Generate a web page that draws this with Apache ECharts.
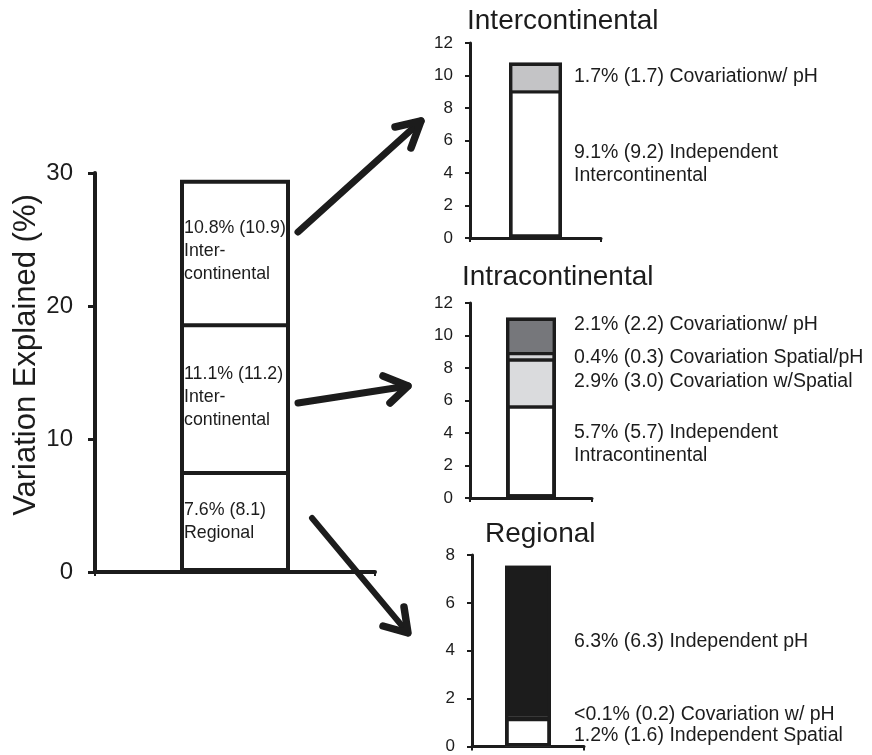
<!DOCTYPE html>
<html>
<head>
<meta charset="utf-8">
<script src="https://cdn.jsdelivr.net/npm/echarts@6/dist/echarts.min.js"></script>
<style>
html,body{margin:0;padding:0;background:#fff;}
#chart{width:872px;height:755px;}
</style>
</head>
<body>
<div id="chart"></div>
<script>
// ---- Data ----
const mainCategories = [''];
const mainRegional = [7.6];
const mainIntra = [11.1];
const mainInter = [10.8];
const mainLabels = ['7.6% (8.1)\nRegional', '11.1% (11.2)\nInter-\ncontinental', '10.8% (10.9)\nInter-\ncontinental'];

const interTitle = 'Intercontinental';
const interIndependent = [9.1];
const interCovPH = [1.7];
const interLabels = ['9.1% (9.2) Independent\nIntercontinental', '1.7% (1.7) Covariationw/ pH'];

const intraTitle = 'Intracontinental';
const intraIndependent = [5.7];
const intraCovSpatial = [2.9];
const intraCovSpatialPH = [0.4];
const intraCovPH = [2.1];
const intraLabels = ['5.7% (5.7) Independent\nIntracontinental', '2.9% (3.0) Covariation w/Spatial', '0.4% (0.3) Covariation Spatial/pH', '2.1% (2.2) Covariationw/ pH'];

const regTitle = 'Regional';
const regIndepSpatial = [1.2];
const regCovPH = [0.05];
const regIndepPH = [6.3];
const regLabels = ['1.2% (1.6) Independent Spatial', '<0.1% (0.2) Covariation w/ pH', '6.3% (6.3) Independent pH'];

const yAxisName = 'Variation Explained (%)';

// ---- Styles ----
const FONT = '"Liberation Sans", Arial, Helvetica, sans-serif';
const INK = '#1c1c1c';

// running totals of stacked arrays (one array per stack level)
function cumulative(arrs) {
  const out = [];
  let run = arrs[0].map(function () { return 0; });
  arrs.forEach(function (a) {
    run = run.map(function (v, i) { return +(v + a[i]).toFixed(3); });
    out.push(run.slice());
  });
  return out;
}

const chart = echarts.init(document.getElementById('chart'), null, {renderer: 'canvas'});

function xAx(gi, lw) {
  return {
    gridIndex: gi, type: 'category', data: mainCategories,
    axisLine: {lineStyle: {color: INK, width: lw}},
    axisTick: {show: true, length: 4, lineStyle: {color: INK, width: 2}},
    axisLabel: {show: false}, splitLine: {show: false}
  };
}
function yAx(gi, max, interval, lw, tickLen, fs, margin) {
  return {
    gridIndex: gi, type: 'value', min: 0, max: max, interval: interval,
    axisLine: {show: true, lineStyle: {color: INK, width: lw}},
    axisTick: {show: true, length: tickLen, lineStyle: {color: INK, width: lw - 1}},
    axisLabel: {color: INK, fontSize: fs, fontFamily: FONT, margin: margin},
    splitLine: {show: false}
  };
}
function seg(gi, stack, data, color, bw, label) {
  return {
    type: 'bar', xAxisIndex: gi, yAxisIndex: gi, stack: stack, data: data,
    barWidth: bw, barGap: '-100%',
    itemStyle: {color: color, borderWidth: 0},
    label: label || {show: false},
    silent: true
  };
}
function outlines(gi, arrs, bw, borderW) {
  return cumulative(arrs).map(function (data) {
    return {
      type: 'bar', xAxisIndex: gi, yAxisIndex: gi, data: data,
      barWidth: bw, barGap: '-100%', z: 3,
      itemStyle: {color: 'rgba(0,0,0,0)', borderColor: INK, borderWidth: borderW},
      label: {show: false}, silent: true
    };
  });
}
function rightLabel(text, dist, offY) {
  return {
    show: true, position: 'right', distance: dist, offset: [0, offY || 0],
    formatter: text, color: INK, fontSize: 19.5, fontFamily: FONT, lineHeight: 23, align: 'left'
  };
}
function insideLabel(text) {
  return {
    show: true, position: 'insideLeft', distance: 4, overflow: 'none',
    formatter: text, color: INK, fontSize: 17.8, fontFamily: FONT, lineHeight: 23, align: 'left'
  };
}

const titleStyle = {color: INK, fontSize: 28, fontWeight: 'normal', fontFamily: FONT, lineHeight: 30};

const series = [].concat(
  [
    seg(0, 'm', mainRegional, '#ffffff', 110, insideLabel(mainLabels[0])),
    seg(0, 'm', mainIntra, '#ffffff', 110, insideLabel(mainLabels[1])),
    seg(0, 'm', mainInter, '#ffffff', 110, insideLabel(mainLabels[2]))
  ],
  outlines(0, [mainRegional, mainIntra, mainInter], 110, 4),
  [
    seg(1, 'a', interIndependent, '#ffffff', 53, rightLabel(interLabels[0], 12, 0)),
    seg(1, 'a', interCovPH, '#c4c4c6', 53, rightLabel(interLabels[1], 12, 0))
  ],
  outlines(1, [interIndependent, interCovPH], 53, 3.4),
  [
    seg(2, 'b', intraIndependent, '#ffffff', 50, rightLabel(intraLabels[0], 18, -8)),
    seg(2, 'b', intraCovSpatial, '#dadbdd', 50, rightLabel(intraLabels[1], 18, 0)),
    seg(2, 'b', intraCovSpatialPH, '#d4d5d7', 50, rightLabel(intraLabels[2], 18, 3)),
    seg(2, 'b', intraCovPH, '#76777b', 50, rightLabel(intraLabels[3], 18, -10))
  ],
  outlines(2, [intraIndependent, intraCovSpatial, intraCovSpatialPH, intraCovPH], 50, 3.4),
  [
    seg(3, 'c', regIndepSpatial, '#ffffff', 46, rightLabel(regLabels[0], 23, 3)),
    seg(3, 'c', regCovPH, '#1c1c1c', 46, rightLabel(regLabels[1], 23, -3)),
    seg(3, 'c', regIndepPH, '#1c1c1c', 46, rightLabel(regLabels[2], 23, 0))
  ],
  outlines(3, [regIndepSpatial, regCovPH, regIndepPH], 46, 3.4)
);

const option = {
  animation: false,
  backgroundColor: '#ffffff',
  textStyle: {fontFamily: FONT},
  title: [
    {text: interTitle, left: 467, top: 6, padding: 0, textStyle: titleStyle},
    {text: intraTitle, left: 462, top: 262, padding: 0, textStyle: titleStyle},
    {text: regTitle, left: 485, top: 519, padding: 0, textStyle: titleStyle}
  ],
  grid: [
    {left: 95, top: 173, width: 280, height: 399},
    {left: 470, top: 43, width: 131, height: 195},
    {left: 470, top: 303, width: 122, height: 195},
    {left: 472, top: 555, width: 112, height: 195}
  ],
  xAxis: [xAx(0, 4), xAx(1, 3), xAx(2, 3), xAx(3, 3)],
  yAxis: [
    yAx(0, 30, 10, 4, 7, 24, 22),
    yAx(1, 12, 2, 3, 5, 17, 17),
    yAx(2, 12, 2, 3, 5, 17, 17),
    yAx(3, 8, 2, 3, 5, 17, 17)
  ],
  series: series,
  graphic: [
    {
      type: 'text', x: 26, y: 355, rotation: Math.PI / 2, silent: true,
      style: {text: yAxisName, fill: INK, font: '31px ' + FONT, align: 'center', verticalAlign: 'middle'}
    },
    // arrows (annotations)
    {type: 'polyline', silent: true, shape: {points: [[298, 232], [421, 121]]},
      style: {stroke: INK, lineWidth: 7, lineCap: 'round', fill: null}},
    {type: 'polyline', silent: true, shape: {points: [[395, 127], [421, 121], [411, 148]]},
      style: {stroke: INK, lineWidth: 7.5, lineCap: 'round', lineJoin: 'round', fill: null}},
    {type: 'polyline', silent: true, shape: {points: [[298, 403], [408, 386]]},
      style: {stroke: INK, lineWidth: 7, lineCap: 'round', fill: null}},
    {type: 'polyline', silent: true, shape: {points: [[383, 376], [408, 386], [390, 403]]},
      style: {stroke: INK, lineWidth: 7.5, lineCap: 'round', lineJoin: 'round', fill: null}},
    {type: 'polyline', silent: true, shape: {points: [[312, 518], [408, 633]]},
      style: {stroke: INK, lineWidth: 6, lineCap: 'round', fill: null}},
    {type: 'polyline', silent: true, shape: {points: [[383, 626], [408, 633], [404, 607]]},
      style: {stroke: INK, lineWidth: 7.5, lineCap: 'round', lineJoin: 'round', fill: null}}
  ]
};
chart.setOption(option);
</script>
</body>
</html>
